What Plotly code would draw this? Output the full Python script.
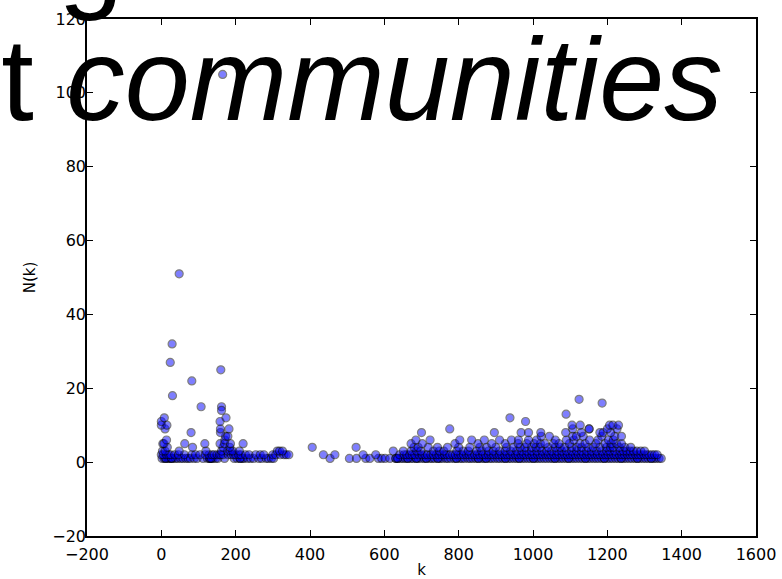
import plotly.graph_objects as go

# ---- data ----
k_n1 = [2, 8, 12, 18, 22, 27, 31, 38, 44, 52, 58, 66, 72, 78, 88, 96, 112, 124, 130, 134, 139, 146, 152, 170,
        196, 204, 212, 218, 222, 232, 240, 248, 262, 270, 282, 288, 296, 302, 454, 506, 525, 550, 561, 584,
        593, 602, 615, 631, 636, 644, 650, 657, 663, 671, 677, 686, 691, 699, 707, 713, 722, 728, 735, 744,
        750, 757, 766, 771, 779, 788, 794, 803, 809, 816, 825, 831, 838, 846, 853, 861, 868, 874, 883, 889,
        897, 905, 911, 919, 926, 934, 941, 949, 956, 963, 971, 978, 986, 993, 1001, 1008, 1015, 1022, 1030,
        1037, 1045, 1052, 1059, 1067, 1074, 1081, 1089, 1096, 1104, 1111, 1118, 1126, 1133, 1141, 1148, 1155,
        1163, 1170, 1177, 1185, 1192, 1200, 1207, 1214, 1222, 1229, 1237, 1244, 1251, 1259, 1266, 1274, 1281,
        1288, 1296, 1303, 1310, 1318, 1325, 1331, 1339, 1345]
k_n1_repeat = [12, 27, 130, 134, 212, 631, 636, 663, 686, 713, 744, 794, 853, 874, 926, 963, 1001, 1059,
               1096, 1141, 1192, 1237, 1281, 1318]
k_n2 = [0, 5, 14, 20, 25, 36, 46, 62, 82, 92, 104, 118, 128, 136, 142, 150, 156, 160, 166, 180, 188, 194,
        200, 208, 214, 226, 236, 254, 266, 276, 300, 308, 320, 330, 336, 343, 436, 467, 543, 577, 641, 653,
        660, 668, 675, 682, 693, 701, 709, 716, 725, 732, 740, 747, 755, 762, 769, 776, 784, 791, 799, 806,
        813, 821, 828, 835, 843, 850, 857, 865, 872, 880, 887, 894, 902, 909, 916, 924, 931, 938, 946, 953,
        960, 968, 975, 982, 990, 997, 1004, 1012, 1019, 1026, 1034, 1041, 1048, 1056, 1063, 1070, 1078, 1085,
        1092, 1100, 1107, 1114, 1122, 1129, 1136, 1144, 1151, 1158, 1166, 1173, 1180, 1188, 1195, 1202, 1210,
        1217, 1224, 1232, 1239, 1246, 1254, 1261, 1268, 1276, 1283, 1290, 1298, 1305, 1312, 1320, 1327, 1334]
k_n3 = [3, 10, 48, 120, 162, 178, 186, 192, 210, 312, 318, 326, 624, 651, 672, 687, 698, 732, 748, 760, 795,
        812, 826, 848, 862, 880, 893, 910, 925, 940, 956, 970, 983, 996, 1010, 1024, 1037, 1050, 1064, 1077,
        1090, 1104, 1117, 1130, 1144, 1157, 1171, 1185, 1198, 1207, 1220, 1234, 1243, 1252, 1261, 1270, 1279,
        1290, 1300]
k_n4 = [16, 84, 166, 184, 406, 524, 680, 691, 718, 743, 770, 800, 830, 857, 875, 900, 929, 947, 965, 978,
        996, 1008, 1019, 1041, 1060, 1073, 1085, 1104, 1118, 1131, 1148, 1162, 1180, 1198, 1208, 1216, 1232,
        1247, 1263]
k_n5 = [4, 7, 63, 117, 158, 170, 186, 220, 672, 702, 790, 852, 889, 925, 960, 983, 1003, 1020, 1032, 1055,
        1070, 1098, 1126, 1140, 1169, 1194, 1210, 1225, 1238]
k_n6 = [14, 171, 685, 723, 803, 835, 869, 910, 942, 961, 988, 1010, 1060, 1090, 1110, 1152, 1175, 1203, 1216]
k_n7 = [173, 179, 1022, 1044, 1107, 1117, 1135, 1185, 1220, 1238]
k_n8 = [80, 159, 700, 896, 968, 988, 1021, 1088, 1130, 1180, 1189, 1209]
k_n9 = [10, 159, 182, 776, 1107, 1151, 1151, 1200, 1226]
k_n10 = [0, 15, 1105, 1127, 1206, 1215, 1230]
k_hi = [0, 8, 158, 174, 980, 938, 1089, 107, 162, 162, 1186, 1124, 30, 82, 160, 24, 29, 48, 165]
n_hi = [11, 12, 11, 12, 11, 12, 13, 15, 15, 14, 16, 17, 18, 22, 25, 27, 32, 51, 105]

x_ticks = [-200, 0, 200, 400, 600, 800, 1000, 1200, 1400, 1600]
y_ticks = [-20, 0, 20, 40, 60, 80, 100, 120]

levels = [(k_n1, 1), (k_n1_repeat, 1), (k_n2, 2), (k_n3, 3), (k_n4, 4), (k_n5, 5),
          (k_n6, 6), (k_n7, 7), (k_n8, 8), (k_n9, 9), (k_n10, 10)]
xs, ys = [], []
for ks, n in levels:
    xs += ks
    ys += [n] * len(ks)
xs += k_hi
ys += n_hi


def fmt(v):
    return ("\u2212" + str(-v)) if v < 0 else str(v)


fig = go.Figure()
fig.add_trace(go.Scatter(
    x=xs, y=ys, mode="markers",
    marker=dict(size=8, color="blue", opacity=0.5, line=dict(color="black", width=1.2)),
    showlegend=False, cliponaxis=False,
))

W, H = 782, 579
L, R, T, B = 87, 26, 19, 43
pw, ph = W - L - R, H - T - B

axis_common = dict(
    showline=True, linecolor="black", linewidth=1.5, mirror="allticks",
    ticks="inside", ticklen=6, tickwidth=1, tickcolor="black",
    showgrid=False, zeroline=False, automargin=False,
    tickfont=dict(family="DejaVu Sans", size=16, color="black"),
    title_font=dict(family="DejaVu Sans", size=15, color="black"),
)

fig.update_layout(
    width=W, height=H,
    margin=dict(l=L, r=R, t=T, b=B, pad=0),
    paper_bgcolor="white", plot_bgcolor="white",
    xaxis=dict(range=[-200, 1600], tickvals=x_ticks, ticktext=[fmt(v) for v in x_ticks],
               ticklabelstandoff=3,
               title=dict(text="k", standoff=5), **axis_common),
    yaxis=dict(range=[-20, 120], tickvals=y_ticks, ticktext=[fmt(v) for v in y_ticks],
               ticklabelstandoff=-4,
               title=dict(text="N(k)", standoff=13), **axis_common),
)

title_font = dict(family="Liberation Sans, Arial", size=117, color="black")
fig.add_annotation(
    text="Degree distribution among", xref="paper", yref="paper",
    x=(125 - L) / pw, y=(H - B + 44) / ph, xanchor="right", yanchor="middle",
    showarrow=False, font=title_font,
)
fig.add_annotation(
    text="different <i>communities</i>", xref="paper", yref="paper",
    x=(725 - L) / pw, y=(H - B - 79.5) / ph, xanchor="right", yanchor="middle",
    showarrow=False, font=title_font,
)

fig.write_html("out.html")
